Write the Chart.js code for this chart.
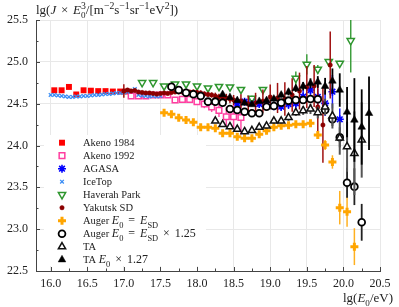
<!DOCTYPE html>
<html><head><meta charset="utf-8">
<script src="https://cdn.jsdelivr.net/npm/chart.js@4.4.1/dist/chart.umd.min.js"></script>
<style>html,body{margin:0;padding:0;background:#fff}</style>
</head><body>
<canvas id="c" width="399" height="307"></canvas>
<script>
// ---------- tick labels ----------
const xTicks = [16,16.5,17,17.5,18,18.5,19,19.5,20,20.5];
const yTicks = [22.5,23,23.5,24,24.5,25,25.5];

// ---------- data ----------
const akeno84X = [16.05,16.15,16.25,16.35,16.45,16.55,16.65,16.75,16.85,16.95,17.05];
const akeno84Y = [24.66,24.66,24.70,24.61,24.66,24.655,24.65,24.65,24.645,24.645,24.645];

const akeno92X = [17.1,17.2,17.3,17.4,17.5,17.6,17.7,17.8,17.9,18.0,18.1,18.2,18.3,18.4,18.5,18.6];
const akeno92Y = [24.592,24.592,24.592,24.604,24.604,24.604,24.544,24.552,24.552,24.524,24.496,24.460,24.420,24.344,24.344,24.335];
const akeno92E = [0.02,0.02,0.02,0.02,0.02,0.03,0.03,0.03,0.04,0.04,0.05,0.06,0.08,0.12,0.15,0.2];

const agasaX = [18.55,18.65,18.75,18.85,18.95,19.05,19.15,19.25,19.35,19.45,19.55,19.65,19.75,19.85,19.95];
const agasaY = [24.50,24.524,24.520,24.496,24.484,24.472,24.464,24.496,24.504,24.583,24.663,24.580,24.504,24.643,24.313];
const agasaE = [0.03,0.03,0.03,0.04,0.04,0.05,0.05,0.06,0.07,0.08,0.1,0.1,0.15,0.2,0.13];

const iceTopX = [16.0,16.05,16.1,16.15,16.2,16.25,16.3,16.35,16.4,16.45,16.5,16.55,16.6,16.65,16.7,16.75,16.8,16.85,16.9,16.95,17.0,17.05,17.1,17.15,17.2,17.25,17.3,17.35,17.4,17.45,17.5];
const iceTopY = [24.604,24.604,24.598,24.592,24.586,24.580,24.580,24.586,24.586,24.592,24.592,24.598,24.604,24.604,24.610,24.616,24.616,24.622,24.628,24.628,24.634,24.640,24.651,24.675,24.604,24.598,24.592,24.586,24.592,24.586,24.592];

const haverahX = [17.25,17.4,17.55,17.7,17.85,18.0,18.15,18.3,18.45,18.6,18.75,18.9,19.35,19.5,19.65,19.8,19.95,20.1];
const haverahY = [24.751,24.751,24.711,24.735,24.735,24.711,24.687,24.705,24.699,24.669,24.564,24.669,24.803,24.970,24.911,25.002,24.982,25.253];
const haverahE = [0.01,0.01,0.01,0.01,0.01,0.01,0.01,0.01,0.02,0.02,0.03,0.03,0.08,0.12,0.05,0.03,0.03,0.38];

const yakutskX = [17.0,17.05,17.1,17.15,17.2,17.25,17.3,17.35,17.4,17.45,17.5,17.55,17.6,17.65,17.7,17.75,17.8,17.85,17.9,17.95,18.0,18.05,18.1,18.15,18.2,18.25,18.3,18.35,18.4,18.45,18.5,18.6,18.7,18.8,18.9,19.0,19.1,19.2,19.3,19.4,19.5,19.6,19.65,19.72,19.82];
const yakutskY = [24.651,24.663,24.651,24.657,24.639,24.634,24.628,24.628,24.622,24.616,24.622,24.628,24.622,24.634,24.639,24.639,24.639,24.645,24.639,24.639,24.634,24.628,24.616,24.610,24.604,24.592,24.580,24.580,24.568,24.556,24.544,24.532,24.496,24.510,24.530,24.580,24.568,24.556,24.604,24.651,24.699,24.711,24.460,24.245,24.962];
const yakutskE = [0.08,0.02,0.02,0.02,0.02,0.02,0.02,0.02,0.02,0.02,0.02,0.02,0.02,0.02,0.02,0.02,0.02,0.02,0.02,0.03,0.03,0.03,0.03,0.03,0.03,0.04,0.04,0.04,0.05,0.05,0.06,0.08,0.1,0.12,0.14,0.15,0.18,0.2,0.2,0.22,0.25,0.25,0.3,0.45,0.4];

const augerX = [17.55,17.65,17.75,17.85,17.95,18.05,18.15,18.25,18.35,18.45,18.55,18.65,18.75,18.85,18.95,19.05,19.15,19.25,19.35,19.45,19.55,19.65,19.75,19.85,19.95,20.05,20.15];
const augerY = [24.392,24.373,24.332,24.305,24.277,24.218,24.218,24.206,24.146,24.146,24.105,24.086,24.086,24.134,24.177,24.218,24.237,24.242,24.253,24.253,24.265,24.126,24.006,23.803,23.257,23.209,22.791];
const augerE = [0,0,0,0,0,0,0,0,0,0,0,0,0,0,0,0,0,0.01,0.01,0.02,0.02,0.04,0.06,0.08,0.2,0.18,0.22];

const auger125X = [17.65,17.75,17.85,17.95,18.05,18.15,18.25,18.35,18.45,18.55,18.65,18.75,18.85,18.95,19.05,19.15,19.25,19.35,19.45,19.55,19.65,19.75,19.85,19.95,20.05,20.15,20.25];
const auger125Y = [24.703,24.663,24.631,24.612,24.592,24.524,24.524,24.512,24.436,24.424,24.404,24.385,24.385,24.464,24.472,24.512,24.536,24.544,24.544,24.556,24.552,24.424,24.313,24.098,23.555,23.508,23.082];
const auger125E = [0,0,0,0,0,0,0,0,0,0,0,0,0,0,0,0,0,0.01,0.01,0.02,0.04,0.05,0.08,0.12,0.18,0.22,0.22];

const taX = [18.25,18.35,18.45,18.55,18.65,18.75,18.85,18.95,19.05,19.15,19.25,19.35,19.45,19.55,19.65,19.75,19.85,19.95,20.05,20.15,20.25];
const taY = [24.293,24.251,24.225,24.194,24.165,24.179,24.218,24.233,24.293,24.293,24.335,24.394,24.416,24.436,24.394,24.460,24.353,24.090,23.986,23.907,24.066];
const taE = [0.02,0.02,0.02,0.02,0.02,0.02,0.02,0.03,0.03,0.03,0.04,0.04,0.05,0.06,0.07,0.1,0.15,0.2,0.3,0.5,0.45];

const ta127X = [18.35,18.45,18.55,18.65,18.75,18.85,18.95,19.05,19.15,19.25,19.35,19.45,19.55,19.65,19.75,19.85,19.95,20.05,20.15,20.25,20.35];
const ta127Y = [24.610,24.574,24.538,24.508,24.490,24.528,24.538,24.556,24.604,24.639,24.681,24.708,24.743,24.759,24.708,24.771,24.663,24.400,24.305,24.221,24.385];
const ta127E = [0.02,0.02,0.02,0.02,0.02,0.02,0.03,0.03,0.03,0.04,0.04,0.05,0.06,0.07,0.1,0.15,0.2,0.3,0.5,0.45,0.44];

// ---------- helpers ----------
const SERIF = "'Liberation Serif','Times New Roman',serif";
const zip = (xs, ys) => xs.map((x, i) => ({x: x, y: ys[i]}));

// parts: string | {t, i (italic), sub, sup, stack, m (size factor)} | {g: gap px}
function rich(ctx, x, y, parts, size, align, color) {
  const segs = parts.map(p => typeof p === 'string' ? {t: p} : p);
  const sz = p => size * (p.m || 1);
  const fontFor = p => (p.i ? 'italic ' : '') + (sz(p) * ((p.sub || p.sup) ? (p.sup ? 0.75 : 0.7) : 1)).toFixed(2) + 'px ' + SERIF;
  const pos = []; let cx = 0, pend = null, pendW = 0;
  segs.forEach(s => {
    if (s.g !== undefined) { pos.push(cx); cx += s.g; return; }
    ctx.font = fontFor(s);
    const w = ctx.measureText(s.t).width;
    if (pend !== null) { pos.push(pend); cx = pend + Math.max(pendW, w); pend = null; }
    else if (s.stack) { pos.push(cx); pend = cx; pendW = w; }
    else { pos.push(cx); cx += w; }
  });
  const x0 = align === 'right' ? x - cx : x;
  ctx.fillStyle = color || '#222';
  ctx.textBaseline = 'alphabetic'; ctx.textAlign = 'left';
  segs.forEach((s, i) => {
    if (s.g !== undefined) return;
    ctx.font = fontFor(s);
    const dy = s.sub ? sz(s) * 0.28 : (s.sup ? -sz(s) * 0.42 : 0);
    ctx.fillText(s.t, x0 + pos[i], y + dy);
  });
}

// ---------- datasets ----------
const datasets = [
  {label:'Akeno 1984', data: zip(akeno84X, akeno84Y), pointStyle:'rect', pointRadius:4.2, pointBackgroundColor:'#ff0000', pointBorderColor:'#ff0000', pointBorderWidth:0},
  {label:'Akeno 1992', data: zip(akeno92X, akeno92Y), err: akeno92E, errColor:'#ff4fa8', errWidth:1.5, pointStyle:'rect', pointRadius:4, pointBackgroundColor:'#ffffff', pointBorderColor:'#ff3ea0', pointBorderWidth:1.5},
  {label:'AGASA', data: zip(agasaX, agasaY), err: agasaE, errColor:'#1a1aff', errWidth:1.5, pointStyle:'star', pointRadius:4, pointBackgroundColor:'#0000ff', pointBorderColor:'#0000ff', pointBorderWidth:1.6},
  {label:'IceTop', data: zip(iceTopX, iceTopY), pointStyle:'crossRot', pointRadius:2.6, pointBackgroundColor:'#3a8df5', pointBorderColor:'#3a8df5', pointBorderWidth:1.3},
  {label:'Haverah Park', data: zip(haverahX, haverahY), err: haverahE, errColor:'#3d9e3d', errWidth:1.5, pointStyle:'triangle', pointRotation:180, pointRadius:4.2, pointBackgroundColor:'#ffffff', pointBorderColor:'#2e962e', pointBorderWidth:1.5},
  {label:'Yakutsk SD', data: zip(yakutskX, yakutskY), err: yakutskE, errColor:'#a01010', errWidth:1.5, pointStyle:'circle', pointRadius:2.2, pointBackgroundColor:'#8b0000', pointBorderColor:'#8b0000', pointBorderWidth:0.5},
  {label:'Auger', data: zip(augerX, augerY), err: augerE, errColor:'#ffb020', errWidth:1.5, pointStyle:'cross', pointRadius:4, pointBackgroundColor:'#ffa500', pointBorderColor:'#ffa500', pointBorderWidth:3},
  {label:'Auger 1.25', data: zip(auger125X, auger125Y), err: auger125E, errColor:'#222222', errWidth:1.8, pointStyle:'circle', pointRadius:3.4, pointBackgroundColor:'#ffffff', pointBorderColor:'#000000', pointBorderWidth:1.8},
  {label:'TA', data: zip(taX, taY), err: taE, errColor:'#555555', errWidth:2, pointStyle:'triangle', pointRadius:4.2, pointBackgroundColor:'#ffffff', pointBorderColor:'#111111', pointBorderWidth:1.5},
  {label:'TA 1.27', data: zip(ta127X, ta127Y), err: ta127E, errColor:'#000000', errWidth:1.8, pointStyle:'triangle', pointRadius:4.4, pointBackgroundColor:'#000000', pointBorderColor:'#000000', pointBorderWidth:0.5}
];
datasets.forEach((d, i) => { d.showLine = false; d.order = datasets.length - i; });

const M = 1.14;
const legendTexts = [
  ['Akeno 1984'],
  ['Akeno 1992'],
  ['AGASA'],
  ['IceTop'],
  ['Haverah Park'],
  ['Yakutsk SD'],
  ['Auger ', {t:'E', i:1, m:M}, {t:'0', sub:1, m:M}, {g:2}, {t:' = ', m:M}, {g:2}, {t:'E', i:1, m:M}, {t:'SD', sub:1, m:M}],
  ['Auger ', {t:'E', i:1, m:M}, {t:'0', sub:1, m:M}, {g:2}, {t:' = ', m:M}, {g:2}, {t:'E', i:1, m:M}, {t:'SD', sub:1, m:M}, {g:2}, {t:' × ', m:M}, {g:2}, {t:'1.25', m:M}],
  ['TA'],
  ['TA ', {t:'E', i:1, m:M}, {t:'0', sub:1, m:M}, {g:2}, {t:' × ', m:M}, {g:2}, {t:'1.27', m:M}]
];

// ---------- plugins ----------
const errPlugin = {
  id: 'errbars',
  beforeDatasetDraw(chart, args) {
    const ds = chart.data.datasets[args.index];
    if (!ds.err) return;
    const ctx = chart.ctx, a = chart.chartArea, xs = chart.scales.x, ys = chart.scales.y;
    ctx.save();
    ctx.beginPath(); ctx.rect(a.left, a.top, a.right - a.left, a.bottom - a.top); ctx.clip();
    ctx.strokeStyle = ds.errColor; ctx.lineWidth = ds.errWidth;
    ds.data.forEach((p, i) => {
      const e = ds.err[i]; if (!e) return;
      const px = xs.getPixelForValue(p.x);
      ctx.beginPath();
      ctx.moveTo(px, ys.getPixelForValue(p.y - e));
      ctx.lineTo(px, ys.getPixelForValue(p.y + e));
      ctx.stroke();
    });
    ctx.restore();
  }
};

const decoPlugin = {
  id: 'deco',
  afterDraw(chart) {
    const ctx = chart.ctx, a = chart.chartArea, xs = chart.scales.x, ys = chart.scales.y;
    ctx.save();
    // legend box
    ctx.fillStyle = '#ffffff';
    ctx.fillRect(44, 135, 162, 131);
    datasets.forEach((d, i) => {
      const cy = 142.7 + i * 13;
      ctx.save();
      ctx.fillStyle = d.pointBackgroundColor;
      ctx.strokeStyle = d.pointBorderColor;
      ctx.lineWidth = d.pointBorderWidth;
      Chart.helpers.drawPoint(ctx, {pointStyle: d.pointStyle, rotation: d.pointRotation || 0, radius: d.pointRadius, borderWidth: d.pointBorderWidth}, 62, cy);
      ctx.restore();
      rich(ctx, 83, cy + 3.6, legendTexts[i], 10.5, 'left', '#222');
    });
    // inward ticks
    ctx.strokeStyle = '#444'; ctx.lineWidth = 1;
    for (let v = 16; v <= 20.5001; v += 0.25) {
      const px = Math.round(xs.getPixelForValue(v)) + 0.5;
      const L = (Math.abs(v * 2 - Math.round(v * 2)) < 1e-6) ? 4 : 2.5;
      ctx.beginPath(); ctx.moveTo(px, a.bottom); ctx.lineTo(px, a.bottom - L); ctx.stroke();
    }
    for (let v = 22.5; v <= 25.5001; v += 0.25) {
      const py = Math.round(ys.getPixelForValue(v)) + 0.5;
      const L = (Math.abs(v * 2 - Math.round(v * 2)) < 1e-6) ? 4 : 2.5;
      ctx.beginPath(); ctx.moveTo(a.left, py); ctx.lineTo(a.left + L, py); ctx.stroke();
    }
    // titles
    rich(ctx, 36, 14, ['lg(', {t:'J', i:1}, {g:1.5}, ' × ', {g:1.5}, {t:'E', i:1}, {t:'0', sub:1, stack:1}, {t:'3', sup:1}, '/[m', {t:'−2', sup:1}, 's', {t:'−1', sup:1}, 'sr', {t:'−1', sup:1}, 'eV', {t:'2', sup:1}, '])'], 13, 'left', '#222');
    rich(ctx, 393, 302, ['lg(', {t:'E', i:1}, {t:'0', sub:1}, '/eV)'], 13, 'right', '#222');
    ctx.restore();
  }
};

// ---------- chart ----------
new Chart(document.getElementById('c'), {
  type: 'scatter',
  data: {datasets: datasets},
  options: {
    responsive: false,
    animation: false,
    events: [],
    layout: {padding: {left: 0, right: 19, top: 20, bottom: 0}},
    plugins: {legend: {display: false}, tooltip: {enabled: false}, title: {display: false}},
    scales: {
      x: {
        type: 'linear', min: 15.8, max: 20.5,
        afterBuildTicks: s => { s.ticks = xTicks.map(v => ({value: v})); },
        afterFit: s => { s.height = 36; },
        grid: {color: '#e8e8e8', drawTicks: false, lineWidth: 1},
        border: {color: '#444', width: 1},
        ticks: {padding: 6, maxRotation: 0, autoSkip: false, color: '#222', font: {family: SERIF, size: 12}}
      },
      y: {
        type: 'linear', min: 22.5, max: 25.5,
        afterBuildTicks: s => { s.ticks = yTicks.map(v => ({value: v})); },
        afterFit: s => { s.width = 36; },
        grid: {color: '#e8e8e8', drawTicks: false, lineWidth: 1},
        border: {color: '#444', width: 1},
        ticks: {padding: 8, autoSkip: false, color: '#222', font: {family: SERIF, size: 12}}
      }
    }
  },
  plugins: [errPlugin, decoPlugin]
});
</script>
</body></html>
